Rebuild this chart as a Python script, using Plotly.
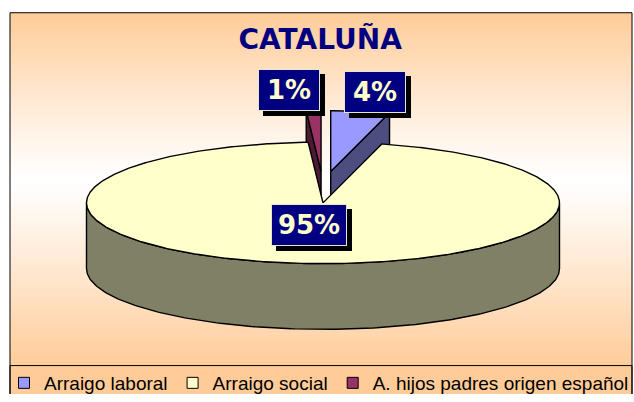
import numpy as np
import plotly.graph_objects as go

# ---------------- data ----------------
categories = ["Arraigo laboral", "Arraigo social", "A. hijos padres origen español"]
values = [4, 95, 1]
label_texts = ["4%", "95%", "1%"]
exploded = [True, False, True]
title_text = "CATALUÑA"

# ---------------- style ----------------
top_colors = ["#9999FF", "#FFFFCC", "#993366"]
face_colors = ["#4D4D80", "#808066", "#4D1A33"]
W, H = 634, 402
CX, CY, RX, RY, DEPTH = 323, 207, 236.5, 62, 67
EXPLODE = 0.52
EXPLODE_XFAC = 0.5
ORANGE = (255, 204, 153)
FRAME = dict(x0=10, y0=13, x1=632, y1=373)
LEGEND_BOX = dict(x0=10, y0=373, x1=632, y1=403)
label_style = {  # xshift, yshift, box width, box height
    "4%": (15, 19, 58, 38),
    "95%": (-6, 0, 72, 38),
    "1%": (-25, 21, 58, 38),
}

fig = go.Figure()

# background gradient
shapes = []
nb = 90
y_top, y_bot = FRAME["y0"], FRAME["y1"]
for i in range(nb):
    ya = y_top + (y_bot - y_top) * i / nb
    yb = y_top + (y_bot - y_top) * (i + 1) / nb
    t = (i + 0.5) / nb
    c = 0.47
    w = abs(t - c) / (c if t < c else 1 - c)
    w = min(1, w ** 1.1)
    col = tuple(int(round(255 * (1 - w) + ORANGE[k] * w)) for k in range(3))
    shapes.append(dict(type="rect", xref="x", yref="y", x0=FRAME["x0"], x1=FRAME["x1"],
                       y0=ya, y1=yb + 0.6, fillcolor="rgb(%d,%d,%d)" % col,
                       line=dict(width=0), layer="below"))
shapes.append(dict(type="rect", xref="x", yref="y", **LEGEND_BOX,
                   fillcolor="rgb(%d,%d,%d)" % ORANGE, line=dict(color="black", width=1),
                   layer="below"))
shapes.append(dict(type="rect", xref="x", yref="y", x0=FRAME["x0"], x1=FRAME["x1"],
                   y0=FRAME["y0"], y1=LEGEND_BOX["y1"], fillcolor="rgba(0,0,0,0)",
                   line=dict(color="black", width=1), layer="below"))

# pie geometry from values
total = float(sum(values))
bounds = np.concatenate([[0], np.cumsum(values)]) / total * 360.0


def proj(theta, dx=0.0, dy=0.0, down=0.0):
    t = np.radians(theta)
    return CX + dx + RX * np.sin(t), CY + dy - RY * np.cos(t) + down


def add_poly(xs, ys, color):
    fig.add_trace(go.Scatter(x=list(xs) + [xs[0]], y=list(ys) + [ys[0]], mode="lines",
                             fill="toself", fillcolor=color,
                             line=dict(color="black", width=1.4),
                             hoverinfo="skip", showlegend=False))


slices = []
for i, v in enumerate(values):
    a0, a1 = bounds[i], bounds[i + 1]
    mid = (a0 + a1) / 2
    if exploded[i]:
        dx = EXPLODE * EXPLODE_XFAC * RX * np.sin(np.radians(mid))
        dy = -EXPLODE * RY * np.cos(np.radians(mid))
    else:
        dx = dy = 0.0
    slices.append((i, a0, a1, mid, dx, dy))

# painter's order: exploded (back) slices first
order = [s for s in slices if exploded[s[0]]] + [s for s in slices if not exploded[s[0]]]

for (i, a0, a1, mid, dx, dy) in order:
    ax, ay = CX + dx, CY + dy
    # visible radial faces
    if np.sin(np.radians(a1)) > 0 and (a1 - a0) < 180:
        rx_, ry_ = proj(a1, dx, dy)
        add_poly([ax, rx_, rx_, ax], [ay, ry_, ry_ + DEPTH, ay + DEPTH], face_colors[i])
    if np.sin(np.radians(a0)) < 0 and (a1 - a0) < 180:
        rx_, ry_ = proj(a0, dx, dy)
        add_poly([ax, rx_, rx_, ax], [ay, ry_, ry_ + DEPTH, ay + DEPTH], face_colors[i])
    # outer curved face (front half)
    lo, hi = max(a0, 90), min(a1, 270)
    if hi > lo:
        th = np.linspace(lo, hi, 200)
        tx, ty = proj(th, dx, dy)
        bx, by = proj(th[::-1], dx, dy, DEPTH)
        add_poly(np.concatenate([tx, bx]), np.concatenate([ty, by]), face_colors[i])
    # top face
    th = np.linspace(a0, a1, max(8, int((a1 - a0) * 2)))
    tx, ty = proj(th, dx, dy)
    add_poly(np.concatenate([[ax], tx]), np.concatenate([[ay], ty]), top_colors[i])

# legend entries
for i, cat in enumerate(categories):
    fig.add_trace(go.Scatter(x=[None], y=[None], mode="markers", name=cat,
                             marker=dict(symbol="square", size=11, color=top_colors[i],
                                         line=dict(color="black", width=1))))

# data labels
annotations = []
for (i, a0, a1, mid, dx, dy) in slices:
    if exploded[i]:
        lx, ly = proj(mid, dx, dy)
    else:
        lx, ly = proj(mid, 0, 0)
        lx = CX + (lx - CX) * 0.37
        ly = CY + (ly - CY) * 0.37
    xs, ys, bw, bh = label_style[label_texts[i]]
    common = dict(x=lx, y=ly, xref="x", yref="y", showarrow=False,
                  width=bw, height=bh, borderpad=1, borderwidth=1)
    annotations.append(dict(text=" ", bgcolor="black", bordercolor="black",
                            xshift=xs + 5, yshift=ys - 5, **common))
    annotations.append(dict(text="<b>%s</b>" % label_texts[i], bgcolor="#000080",
                            bordercolor="#E8E4C8", xshift=xs, yshift=ys,
                            font=dict(family="DejaVu Sans", size=26, color="#FFFFCC"),
                            **common))

fig.update_layout(
    width=W, height=H,
    margin=dict(l=0, r=0, t=0, b=0),
    paper_bgcolor="white", plot_bgcolor="rgba(0,0,0,0)",
    xaxis=dict(range=[0, W], visible=False, fixedrange=True),
    yaxis=dict(range=[H, 0], visible=False, fixedrange=True),
    shapes=shapes, annotations=annotations,
    title=dict(text="<b>%s</b>" % title_text, x=0.505, xanchor="center",
               y=1 - 39 / H, yanchor="middle",
               font=dict(family="DejaVu Sans", size=28, color="#000080")),
    legend=dict(orientation="h", x=4 / W, xanchor="left", y=1 - 391 / H, yanchor="middle",
                bgcolor="rgba(0,0,0,0)", borderwidth=0,
                font=dict(family="Liberation Sans, Arial", size=19, color="black"),
                itemwidth=30),
    showlegend=True,
)

fig.write_html("out.html", config={"displayModeBar": False},
               post_script="document.body.style.margin='0';"
                           "document.body.style.overflow='hidden';")
